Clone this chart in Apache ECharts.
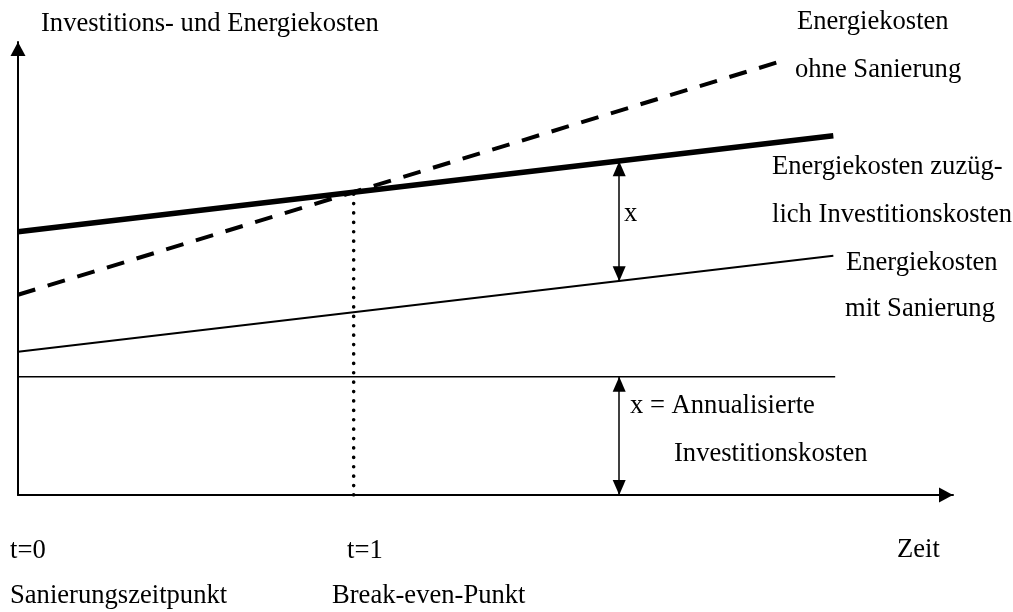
<!DOCTYPE html>
<html>
<head>
<meta charset="utf-8">
<script src="https://cdn.jsdelivr.net/npm/echarts@6/dist/echarts.min.js"></script>
<style>html,body{margin:0;padding:0;background:#fff}#c{width:1013px;height:612px}</style>
</head>
<body>
<div id="c"></div>
<script>
// Schematic data (arbitrary units: x 0..100, y 0..100)
const withInvest = [[0, 58.1], [87.2, 79.3]];        // Energiekosten zuzüglich Investitionskosten
const withoutRenov = [[0, 44.2], [82.0, 96.0]];      // Energiekosten ohne Sanierung
const withRenov = [[0, 31.6], [87.2, 52.8]];         // Energiekosten mit Sanierung
const annualLevel = [[0, 26.1], [87.4, 26.1]];       // annualisierte Investitionskosten
const breakEven = [[35.9, 0], [35.9, 68.4]];         // Break-even-Punkt
const arrowUpper = [[64.3, 73.7], [64.3, 47.2]];
const arrowLower = [[64.3, 26.1], [64.3, 0]];

const yTitle = 'Investitions- und Energiekosten';
const tickLabels = ['t=0', 't=1', 'Zeit'];
const tickSubLabels = ['Sanierungszeitpunkt', 'Break-even-Punkt'];
const lineLabels = [
  ['Energiekosten', 'ohne Sanierung'],
  ['Energiekosten zuzüg-', 'lich Investitionskosten'],
  ['Energiekosten', 'mit Sanierung']
];
const xLabel = 'x';
const xLegend = ['x = Annualisierte', 'Investitionskosten'];

const FONT = '"Liberation Serif", "Times New Roman", serif';
const FS = 26.6;
function txt(s, x, y) {
  return { type: 'text', left: x, top: y - FS / 2 + 1, silent: true,
    style: { text: s, font: FS + 'px ' + FONT, fill: '#000' } };
}

const chart = echarts.init(document.getElementById('c'), null, { renderer: 'canvas' });
const axisCommon = {
  type: 'value', min: 0, max: 100,
  axisLine: { show: true, symbol: ['none', 'triangle'], symbolSize: [15, 14], symbolOffset: [0, -7],
    lineStyle: { color: '#000', width: 2 } },
  axisTick: { show: false }, axisLabel: { show: false }, splitLine: { show: false }
};
const plain = { type: 'line', symbol: 'none', silent: true, animation: false };

chart.setOption({
  animation: false,
  backgroundColor: '#fff',
  grid: { left: 18, right: 60, top: 42, bottom: 117 },
  xAxis: axisCommon,
  yAxis: axisCommon,
  series: [
    Object.assign({}, plain, { data: withInvest, lineStyle: { color: '#000', width: 5.5 } }),
    Object.assign({}, plain, { data: withoutRenov, lineStyle: { color: '#000', width: 4, type: [18, 13] } }),
    Object.assign({}, plain, { data: withRenov, lineStyle: { color: '#000', width: 2 } }),
    Object.assign({}, plain, { data: annualLevel, lineStyle: { color: '#000', width: 1.5 } }),
    Object.assign({}, plain, { data: breakEven, lineStyle: { color: '#000', width: 3.6, type: [0.1, 9.3], cap: 'round' },
      markLine: {
        silent: true, animation: false,
        symbol: ['triangle', 'triangle'], symbolSize: [13, 15],
        symbolOffset: [[0, 7.5], [0, 7.5]],
        label: { show: false },
        lineStyle: { color: '#000', width: 1.5, type: 'solid' },
        emphasis: { disabled: true },
        data: [
          [{ coord: arrowUpper[0] }, { coord: arrowUpper[1] }],
          [{ coord: arrowLower[0] }, { coord: arrowLower[1] }]
        ]
      }
    })
  ],
  graphic: [
    txt(yTitle, 41, 23),
    txt(lineLabels[0][0], 797, 21),
    txt(lineLabels[0][1], 795, 69),
    txt(lineLabels[1][0], 772, 166),
    txt(lineLabels[1][1], 772, 214),
    txt(lineLabels[2][0], 846, 262),
    txt(lineLabels[2][1], 845, 308),
    txt(xLabel, 624, 213),
    txt(xLegend[0], 630, 405),
    txt(xLegend[1], 674, 453),
    txt(tickLabels[0], 10, 550),
    txt(tickLabels[1], 347, 550),
    txt(tickLabels[2], 897, 549),
    txt(tickSubLabels[0], 10, 595),
    txt(tickSubLabels[1], 332, 595)
  ]
});
</script>
</body>
</html>
